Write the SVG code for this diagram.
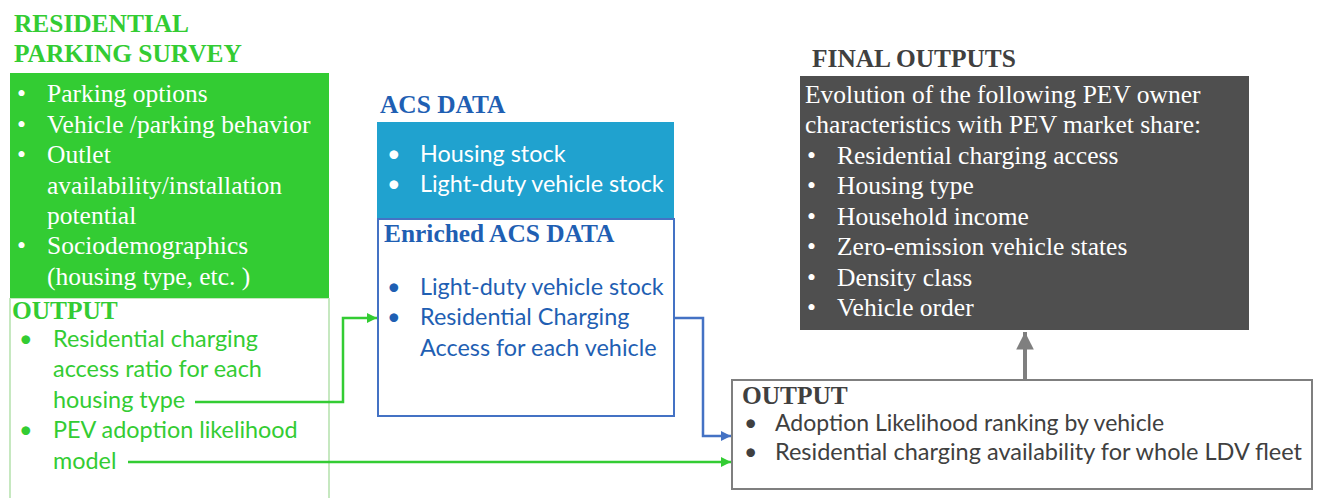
<svg xmlns="http://www.w3.org/2000/svg" width="1317" height="498" viewBox="0 0 1317 498">
  <style>
    .serif { font-family: "Liberation Serif", "Times New Roman", serif; }
    .sans { font-family: Lato, "Liberation Sans", sans-serif; }
    .head { font-family: "Liberation Serif", "Times New Roman", serif; font-weight: bold; font-size: 25.4px; }
    .green { fill: #33CC33; }
    .blue { fill: #1F5FB3; }
    .white { fill: #FFFFFF; }
    .dark { fill: #404040; }
    .body { font-size: 25.5px; }
    .lato { font-size: 23.4px; }
  </style>
  <defs>
    <marker id="arrowGreen" viewBox="0 0 10 10" refX="10" refY="5" markerWidth="4" markerHeight="4" orient="auto" markerUnits="strokeWidth">
      <path d="M0,0 L10,5 L0,10 z" fill="#33CC33"/>
    </marker>
    <marker id="arrowBlue" viewBox="0 0 10 10" refX="10" refY="5" markerWidth="4" markerHeight="4" orient="auto" markerUnits="strokeWidth">
      <path d="M0,0 L10,5 L0,10 z" fill="#4472C4"/>
    </marker>
    <marker id="arrowGray" viewBox="0 0 10 10" refX="10" refY="5" markerWidth="4.4" markerHeight="4.4" orient="auto" markerUnits="strokeWidth">
      <path d="M0,0 L10,5 L0,10 z" fill="#7F7F7F"/>
    </marker>
  </defs>

  <!-- Residential parking survey -->
  <g id="survey">
    <text class="head green" x="14" y="32">RESIDENTIAL</text>
    <text class="head green" x="14" y="62">PARKING SURVEY</text>
    <rect x="10" y="73" width="319" height="225" fill="#33CC33"/>
    <g class="serif body white">
      <text x="17" y="102">•</text><text x="47" y="102">Parking options</text>
      <text x="17" y="133">•</text><text x="47" y="133">Vehicle /parking behavior</text>
      <text x="17" y="163">•</text><text x="47" y="163">Outlet</text>
      <text x="47" y="194">availability/installation</text>
      <text x="47" y="224">potential</text>
      <text x="17" y="254">•</text><text x="47" y="254">Sociodemographics</text>
      <text x="47" y="285">(housing type, etc. )</text>
    </g>
  </g>

  <!-- Survey output -->
  <g id="survey-output">
    <path d="M10,298 V498 M329,298 V498" stroke="#C6E8C0" stroke-width="2" fill="none"/>
    <line x1="10" y1="298.5" x2="329" y2="298.5" stroke="#C6E8C0" stroke-width="1"/>
    <text class="head green" x="12" y="319">OUTPUT</text>
    <g class="sans lato green">
      <text x="19" y="347">•</text><text x="53" y="347">Residential charging</text>
      <text x="53" y="377">access ratio for each</text>
      <text x="53" y="408">housing type</text>
      <text x="19" y="438">•</text><text x="53" y="438">PEV adoption likelihood</text>
      <text x="53" y="469">model</text>
    </g>
  </g>

  <!-- ACS data -->
  <g id="acs">
    <text class="head blue" x="380" y="113">ACS DATA</text>
    <rect x="377" y="122" width="297" height="96" fill="#20A2CF"/>
    <g class="sans lato white">
      <text x="387" y="162">•</text><text x="420" y="162">Housing stock</text>
      <text x="387" y="192">•</text><text x="420" y="192">Light-duty vehicle stock</text>
    </g>
  </g>

  <!-- Enriched ACS data -->
  <g id="enriched-acs">
    <rect x="378" y="219" width="296" height="197" fill="#FFFFFF" stroke="#4472C4" stroke-width="2"/>
    <text class="head blue" x="384" y="242">Enriched ACS DATA</text>
    <g class="sans lato blue">
      <text x="387" y="295">•</text><text x="420" y="295">Light-duty vehicle stock</text>
      <text x="387" y="325">•</text><text x="420" y="325">Residential Charging</text>
      <text x="420" y="356">Access for each vehicle</text>
    </g>
  </g>

  <!-- Final outputs -->
  <g id="final-outputs">
    <text class="head dark" x="812" y="67">FINAL OUTPUTS</text>
    <rect x="800" y="76" width="449" height="254" fill="#4F4F4F"/>
    <g class="serif body white">
      <text x="805" y="103">Evolution of the following PEV owner</text>
      <text x="805" y="133">characteristics with PEV market share:</text>
      <text x="807" y="164">•</text><text x="837" y="164">Residential charging access</text>
      <text x="807" y="194">•</text><text x="837" y="194">Housing type</text>
      <text x="807" y="225">•</text><text x="837" y="225">Household income</text>
      <text x="807" y="255">•</text><text x="837" y="255">Zero-emission vehicle states</text>
      <text x="807" y="286">•</text><text x="837" y="286">Density class</text>
      <text x="807" y="316">•</text><text x="837" y="316">Vehicle order</text>
    </g>
  </g>

  <!-- Model output -->
  <g id="model-output">
    <rect x="732" y="380" width="580" height="109" fill="#FFFFFF" stroke="#7F7F7F" stroke-width="2"/>
    <text class="head dark" x="742" y="404">OUTPUT</text>
    <g class="sans dark" font-size="23px">
      <text x="744" y="431">•</text><text x="775" y="431">Adoption Likelihood ranking by vehicle</text>
      <text x="744" y="460">•</text><text x="775" y="460" textLength="527" lengthAdjust="spacingAndGlyphs">Residential charging availability for whole LDV fleet</text>
    </g>
  </g>

  <!-- Connectors -->
  <g id="connectors" fill="none">
    <polyline points="195,402 343,402 343,318 377,318" stroke="#33CC33" stroke-width="2.5" marker-end="url(#arrowGreen)"/>
    <polyline points="128,462 731,462" stroke="#33CC33" stroke-width="2.5" marker-end="url(#arrowGreen)"/>
    <polyline points="674,318 703,318 703,436 731,436" stroke="#4472C4" stroke-width="2.5" marker-end="url(#arrowBlue)"/>
    <polyline points="1025,379 1025,332" stroke="#7F7F7F" stroke-width="4" marker-end="url(#arrowGray)"/>
  </g>
</svg>
